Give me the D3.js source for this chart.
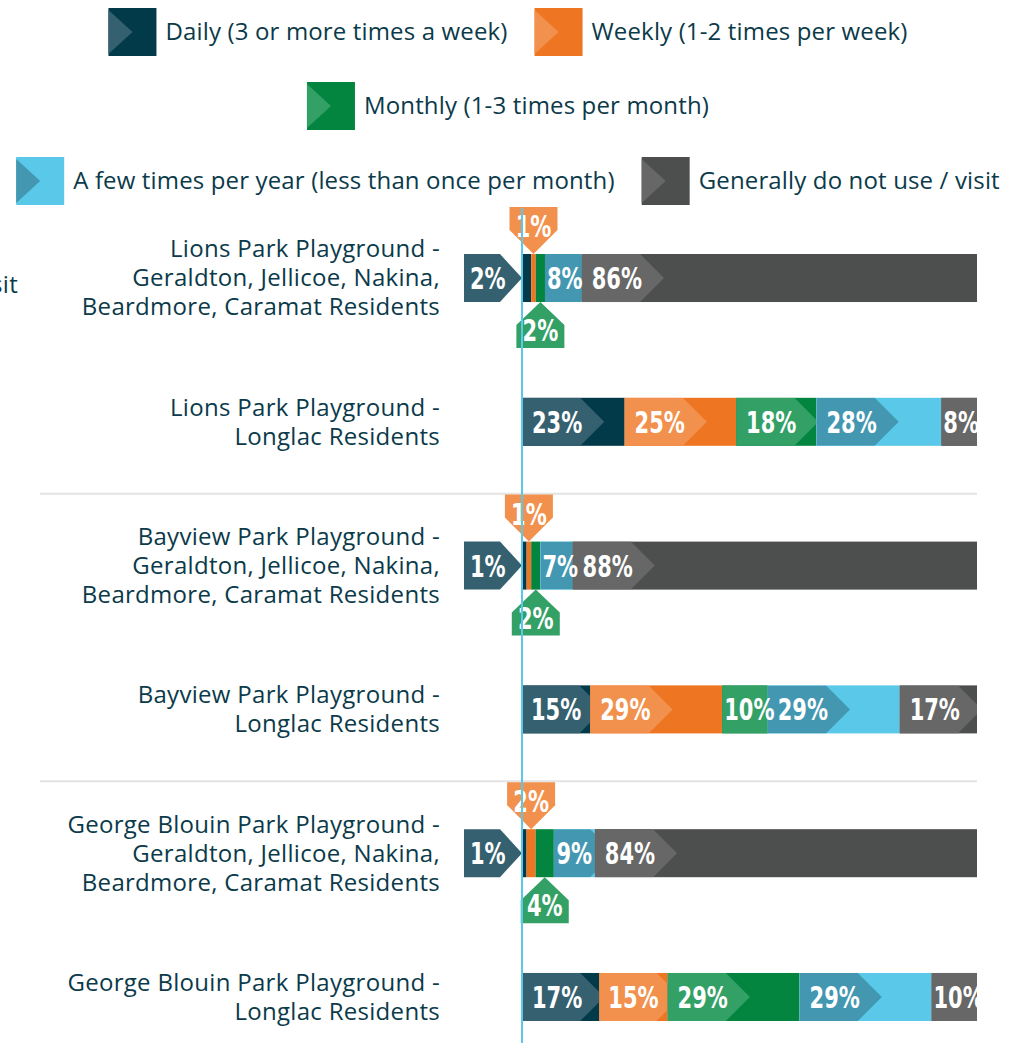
<!DOCTYPE html>
<html>
<head>
<meta charset="utf-8">
<script src="https://cdn.jsdelivr.net/npm/d3@7"></script>
<style>
  body { margin: 0; background: #fff; }
  svg { display: block; }
</style>
</head>
<body>
<div id="chart"></div>
<script>
/* Frequency categories, in stacking order */
const categories = [
  "Daily (3 or more times a week)",
  "Weekly (1-2 times per week)",
  "Monthly (1-3 times per month)",
  "A few times per year (less than once per month)",
  "Generally do not use / visit"
];

// base colour of each segment, and the colour of the arrow tag drawn on it
const baseColors = ["#023a4a", "#ee7623", "#038540", "#5ac8e8", "#4d4f4e"];
const tagColors  = ["#34606f", "#f2914d", "#33a066", "#4397b0", "#666766"];

/* Row labels (each row split into its printed lines) */
const rowLabels = [
  ["Lions Park Playground -", "Geraldton, Jellicoe, Nakina,", "Beardmore, Caramat Residents"],
  ["Lions Park Playground -", "Longlac Residents"],
  ["Bayview Park Playground -", "Geraldton, Jellicoe, Nakina,", "Beardmore, Caramat Residents"],
  ["Bayview Park Playground -", "Longlac Residents"],
  ["George Blouin Park Playground -", "Geraldton, Jellicoe, Nakina,", "Beardmore, Caramat Residents"],
  ["George Blouin Park Playground -", "Longlac Residents"]
];

/* Percentages per row: daily, weekly, monthly, few per year, do not use */
const lionsGJNBC     = [2, 1, 2, 8, 86];
const lionsLonglac   = [23, 25, 18, 28, 8];
const bayviewGJNBC   = [1, 1, 2, 7, 88];
const bayviewLonglac = [15, 29, 10, 29, 17];
const blouinGJNBC    = [1, 2, 4, 9, 84];
const blouinLonglac  = [17, 15, 29, 29, 10];

const rows = [lionsGJNBC, lionsLonglac, bayviewGJNBC, bayviewLonglac, blouinGJNBC, blouinLonglac];

const width = 1021, height = 1043;
const margins = {left: 522, right: 44};
const labelFont = "'Open Sans', Roboto, sans-serif";
const numFont = "'DejaVu Sans', sans-serif";
const textColor = "#0b3a4a";
const squeeze = 0.7;   // number labels are set in a narrow face

const svg = d3.select("#chart")
  .append("svg")
  .attr("width", width)
  .attr("height", height)
  .attr("viewBox", [0, 0, width, height]);

// white percentage label, squeezed horizontally
const numLabel = (sel, x, y, value, anchor) => {
  const t = sel.append("text")
    .attr("x", x).attr("y", y)
    .style("text-anchor", anchor || "start")
    .style("font-family", numFont)
    .style("font-weight", "bold")
    .style("font-size", "30px")
    .style("fill", "#fff")
    .text(value + "%");
  const len = t.node().getComputedTextLength() * squeeze;
  t.attr("textLength", len).attr("lengthAdjust", "spacingAndGlyphs");
  return t;
};

const labelStyle = sel => sel
  .style("font-family", labelFont)
  .style("font-size", "24px")
  .style("letter-spacing", "0.3px")
  .style("fill", textColor);

/* Legend: three centred lines of items */
const legendRows = [[0, 1], [2], [3, 4]];
const legendY = [32, 106, 181];
const sw = 48, gap = 27, centerX = 508;

legendRows.forEach((items, r) => {
  const g = svg.append("g");
  let x = 0;
  items.forEach(i => {
    const item = g.append("g").attr("transform", `translate(${x},${legendY[r] - sw / 2})`);
    item.append("rect").attr("width", sw).attr("height", sw).attr("fill", baseColors[i]);
    item.append("path")
      .attr("d", `M0,2L${sw / 2},${sw / 2}L0,${sw - 2}Z`)
      .attr("fill", tagColors[i]);
    const t = item.append("text")
      .attr("x", sw + 9)
      .attr("y", sw / 2)
      .attr("dy", "0.35em")
      .call(labelStyle)
      .style("letter-spacing", "0.15px")
      .text(categories[i]);
    x += sw + 9 + t.node().getComputedTextLength() + gap;
  });
  const total = x - gap;
  g.attr("transform", `translate(${centerX - total / 2},0)`);
});

/* cut-off axis title on the far left */
svg.append("text")
  .attr("x", 18)
  .attr("y", 285)
  .attr("dy", "0.35em")
  .style("text-anchor", "end")
  .call(labelStyle)
  .text("Generally do not use / visit");

/* Row positions */
const yScale = d3.scaleBand()
  .domain(d3.range(rows.length))
  .range([254, 1021])
  .paddingInner(0.666);
const bh = yScale.bandwidth();

// separators between each pair of rows
[1, 3].forEach(i => {
  const y = (yScale(i) + bh + yScale(i + 1)) / 2;
  svg.append("line")
    .attr("x1", 40).attr("x2", width - margins.right)
    .attr("y1", y).attr("y2", y)
    .attr("stroke", "#e3e3e3")
    .attr("stroke-width", 2);
});

// row labels
rows.forEach((vals, r) => {
  const lines = rowLabels[r];
  const cy = yScale(r) + bh / 2;
  svg.append("text")
    .call(labelStyle)
    .style("text-anchor", "end")
    .selectAll("tspan")
    .data(lines)
    .join("tspan")
      .attr("x", 440)
      .attr("y", (d, i) => cy + (i - (lines.length - 1) / 2) * 29)
      .attr("dy", "0.35em")
      .text(d => d);
});

const defs = svg.append("defs");

rows.forEach((vals, r) => {
  const total = d3.sum(vals);
  const xScale = d3.scaleLinear()
    .domain([0, total])
    .range([margins.left, width - margins.right]);
  const stacked = d3.cumsum(vals);
  const y0 = yScale(r), cy = y0 + bh / 2;
  const g = svg.append("g");
  const labels = svg.append("g");

  vals.forEach((v, i) => {
    const x0 = xScale(stacked[i] - v), x1 = xScale(stacked[i]);
    const clipId = `clip-${r}-${i}`;
    defs.append("clipPath").attr("id", clipId)
      .append("rect").attr("x", x0).attr("y", y0).attr("width", x1 - x0).attr("height", bh);

    g.append("rect")
      .attr("x", x0).attr("y", y0)
      .attr("width", x1 - x0).attr("height", bh)
      .attr("fill", baseColors[i]);

    if (v >= 5) {
      // arrow tag inside the segment, clipped to it; the number itself is not clipped
      const tag = g.append("path")
        .attr("clip-path", `url(#${clipId})`)
        .attr("fill", tagColors[i]);
      const t = numLabel(labels, x0, cy + 11, v);
      const len = +t.attr("textLength");
      const pad = Math.max(2, Math.min(10, (x1 - x0 - len) / 2));
      t.attr("x", x0 + pad);
      const re = x0 + pad - 2 + len;
      tag.attr("d", `M${x0},${y0}H${re}L${re + bh / 2},${cy}L${re},${y0 + bh}H${x0}Z`);
    } else {
      const cx = (x0 + x1) / 2;
      const lbl = svg.append("g");
      if (i === 0) {
        // tag on the left pointing at the bar start
        const tip = margins.left, re = tip - 22, le = tip - 58;
        lbl.append("path")
          .attr("d", `M${le},${y0}H${re}L${tip},${cy}L${re},${y0 + bh}H${le}Z`)
          .attr("fill", tagColors[i]);
        numLabel(lbl, le + 6, cy + 11, v);
      } else if (i === 1) {
        // tag above pointing down
        const rb = y0 - 24, rt = y0 - 47;
        lbl.append("path")
          .attr("d", `M${cx - 24},${rt}H${cx + 24}V${rb}L${cx},${y0}L${cx - 24},${rb}Z`)
          .attr("fill", tagColors[i]);
        numLabel(lbl, cx, y0 - 17, v, "middle");
      } else {
        // tag below pointing up
        const tip = y0 + bh, rt = tip + 23, rb = tip + 46;
        lbl.append("path")
          .attr("d", `M${cx},${tip}L${cx + 24},${rt}V${rb}H${cx - 24}V${rt}Z`)
          .attr("fill", tagColors[i]);
        numLabel(lbl, cx, tip + 39, v, "middle");
      }
    }
  });
});

/* Vertical guide at the bar start */
svg.append("line")
  .attr("x1", margins.left).attr("x2", margins.left)
  .attr("y1", 208).attr("y2", height)
  .attr("stroke", "#5ac8e8")
  .attr("stroke-width", 2);
</script>
</body>
</html>
